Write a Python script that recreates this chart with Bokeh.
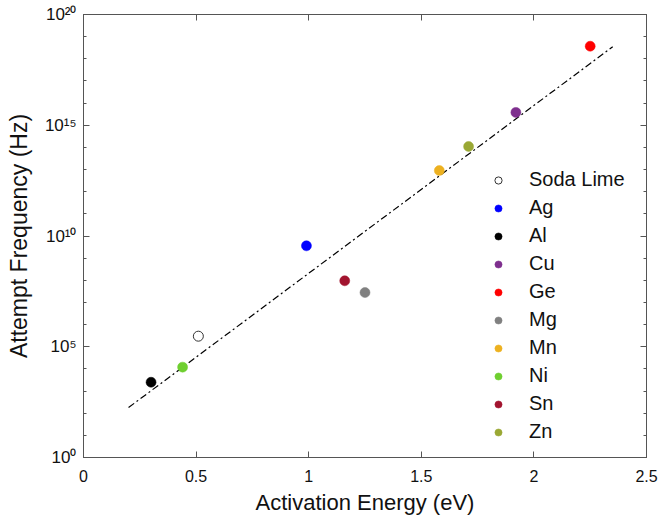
from bokeh.plotting import figure
from bokeh.models import (FixedTicker, LinearAxis, LogAxis, Legend, LegendItem,
                          CustomJSTickFormatter, ColumnDataSource)
from bokeh.embed import file_html
from bokeh.resources import INLINE

# ---- data ----
materials = ["Soda Lime", "Ag", "Al", "Cu", "Ge", "Mg", "Mn", "Ni", "Sn", "Zn"]
activation_energy = [0.51, 0.99, 0.30, 1.92, 2.25, 1.25, 1.58, 0.44, 1.16, 1.71]
attempt_freq = [3.0e5, 3.6e9, 2.5e3, 3.8e15, 3.7e18, 2.8e7, 9.0e12, 1.2e4, 9.5e7, 1.1e14]
colors = ["#FFFFFF", "#0000FF", "#000000", "#7E2F8E", "#FF0000", "#808080",
          "#EDB120", "#6FCF30", "#A2142F", "#9AA834"]

fit_x = [0.20, 2.35]
fit_y = [1.8e2, 3.5e18]

x_ticks = [0, 0.5, 1, 1.5, 2, 2.5]
x_tick_labels = ["0", "0.5", "1", "1.5", "2", "2.5"]
y_ticks = [1e0, 1e5, 1e10, 1e15, 1e20]
y_tick_labels = ["10\u2070", "10\u2075", "10\u00b9\u2070", "10\u00b9\u2075", "10\u00b2\u2070"]
y_minor = [10.0 ** k for k in range(0, 21)]

x_title = "Activation Energy (eV)"
y_title = "Attempt Frequency (Hz)"

FONT = "Liberation Sans"
AXC = "#555555"
TXT = "#111111"

p = figure(width=659, height=521, y_axis_type="log",
           x_range=(0, 2.5), y_range=(1e0, 1e20),
           output_backend="svg", toolbar_location=None,
           min_border_left=83, min_border_right=13, min_border_top=14, min_border_bottom=64)
p.xgrid.visible = False
p.ygrid.visible = False
p.outline_line_color = AXC
p.background_fill_color = "white"
p.border_fill_color = "white"

xt = FixedTicker(ticks=x_ticks, minor_ticks=[])
yt = FixedTicker(ticks=y_ticks, minor_ticks=y_minor)
xfmt = CustomJSTickFormatter(args=dict(labels=x_tick_labels),
                             code="return labels[Math.round(tick*2)];")
yfmt = CustomJSTickFormatter(args=dict(labels=y_tick_labels),
                             code="return labels[Math.round(Math.log10(tick)/5)];")
blank = CustomJSTickFormatter(code="return '';")

def style(ax):
    ax.axis_line_color = AXC
    ax.major_tick_line_color = AXC
    ax.minor_tick_line_color = AXC
    ax.major_tick_in = 6
    ax.major_tick_out = 0
    ax.minor_tick_in = 3
    ax.minor_tick_out = 0
    ax.major_label_text_font = FONT
    ax.major_label_text_font_size = "16px"
    ax.major_label_text_color = TXT
    ax.axis_label_text_font = FONT
    ax.axis_label_text_font_style = "normal"
    ax.axis_label_text_color = TXT

xa = p.xaxis[0]
xa.ticker = xt
xa.formatter = xfmt
style(xa)
xa.axis_label = x_title
xa.axis_label_text_font_size = "22px"
xa.major_label_standoff = 12
xa.axis_label_standoff = 5

ya = p.yaxis[0]
ya.ticker = yt
ya.formatter = yfmt
style(ya)
ya.major_label_text_font_size = "17px"
ya.major_label_standoff = 7
ya.axis_label = y_title
ya.axis_label_text_font_size = "23px"
ya.axis_label_standoff = 10

top = LinearAxis(ticker=xt, formatter=blank)
style(top)
top.major_label_standoff = 0
p.add_layout(top, "above")

right = LogAxis(ticker=yt, formatter=blank)
style(right)
right.major_label_standoff = 0
p.add_layout(right, "right")

# fit line
p.line(fit_x, fit_y, line_color="black", line_width=1.2, line_dash="7 3 2 3")

items = []
for name, ex, fy, c in zip(materials, activation_energy, attempt_freq, colors):
    src = ColumnDataSource(dict(x=[ex], y=[fy]))
    if name == "Soda Lime":
        r = p.scatter("x", "y", source=src, size=10, fill_color="white",
                      line_color="#333333", line_width=1)
    else:
        r = p.scatter("x", "y", source=src, size=10, fill_color=c,
                      line_color=c, line_width=0.5)
    items.append(LegendItem(label=name, renderers=[r]))

legend = Legend(items=items, location=(406, 14), padding=0, margin=0,
                spacing=5, glyph_width=18, glyph_height=18, label_height=18,
                label_standoff=22, label_text_font=FONT, label_text_font_size="20px",
                label_text_color=TXT, border_line_color=None,
                background_fill_alpha=0)
p.add_layout(legend, "center")

open("out.html", "w").write(file_html(p, INLINE))
